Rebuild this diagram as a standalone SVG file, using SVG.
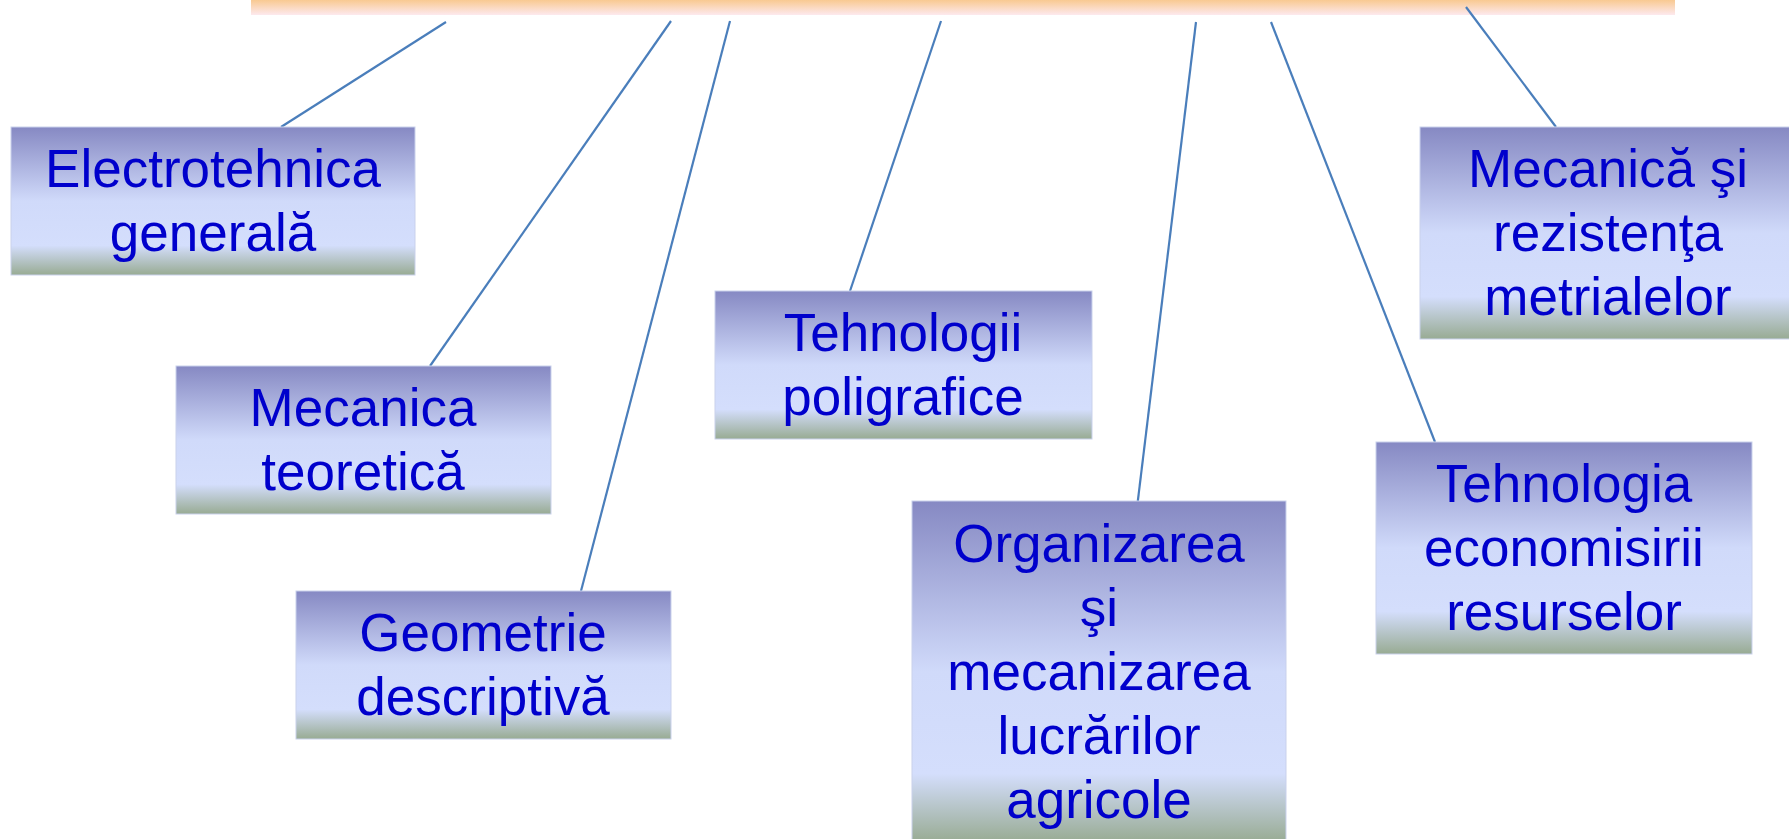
<svg xmlns="http://www.w3.org/2000/svg" width="1789" height="839" viewBox="0 0 1789 839">
<defs>
<linearGradient id="bar" x1="0" y1="0" x2="0" y2="1">
<stop offset="0" stop-color="#f8c585"/>
<stop offset="1" stop-color="#fde9ee"/>
</linearGradient>
<linearGradient id="box" x1="0" y1="0" x2="0" y2="1">
<stop offset="0" stop-color="#8689c3"/>
<stop offset="0.5" stop-color="#d0dafa"/>
<stop offset="0.8" stop-color="#d4defc"/>
<stop offset="1" stop-color="#98ab93"/>
</linearGradient>
</defs>
<style>
.b{fill:url(#box);stroke:#c9d1ec;stroke-width:1}
.t{font-family:"Liberation Sans",Arial,sans-serif;font-size:53px;fill:#0000cc;text-anchor:middle}
.c{stroke:#4a7ebb;stroke-width:2.2;fill:none}
</style>
<rect width="1789" height="839" fill="#ffffff"/>
<rect id="topbar" x="251" y="-2" width="1424" height="17" fill="url(#bar)"/>
<g id="connectors">
<line class="c" x1="446" y1="22" x2="281" y2="127"/>
<line class="c" x1="671" y1="21" x2="430" y2="366"/>
<line class="c" x1="730" y1="21" x2="581" y2="591"/>
<line class="c" x1="941" y1="21" x2="850" y2="291"/>
<line class="c" x1="1196" y1="22" x2="1136" y2="516"/>
<line class="c" x1="1271" y1="22" x2="1435" y2="442"/>
<line class="c" x1="1466" y1="7" x2="1556" y2="127"/>
</g>
<g id="n1">
<rect class="b" x="11" y="127" width="404" height="148"/>
<text class="t"><tspan x="213" y="187">Electrotehnica</tspan><tspan x="213" y="251">generală</tspan></text>
</g>
<g id="n2">
<rect class="b" x="176" y="366" width="375" height="148"/>
<text class="t"><tspan x="363" y="426">Mecanica</tspan><tspan x="363" y="490">teoretică</tspan></text>
</g>
<g id="n3">
<rect class="b" x="296" y="591" width="375" height="148"/>
<text class="t"><tspan x="483" y="651">Geometrie</tspan><tspan x="483" y="715">descriptivă</tspan></text>
</g>
<g id="n4">
<rect class="b" x="715" y="291" width="377" height="148"/>
<text class="t"><tspan x="903" y="351">Tehnologii</tspan><tspan x="903" y="415">poligrafice</tspan></text>
</g>
<g id="n5">
<rect class="b" x="912" y="501" width="374" height="341"/>
<text class="t"><tspan x="1099" y="562">Organizarea</tspan><tspan x="1099" y="626">şi</tspan><tspan x="1099" y="690">mecanizarea</tspan><tspan x="1099" y="754">lucrărilor</tspan><tspan x="1099" y="818">agricole</tspan></text>
</g>
<g id="n6">
<rect class="b" x="1376" y="442" width="376" height="212"/>
<text class="t"><tspan x="1564" y="502">Tehnologia</tspan><tspan x="1564" y="566">economisirii</tspan><tspan x="1564" y="630">resurselor</tspan></text>
</g>
<g id="n7">
<rect class="b" x="1420" y="127" width="376" height="212"/>
<text class="t"><tspan x="1608" y="187">Mecanică şi</tspan><tspan x="1608" y="251">rezistenţa</tspan><tspan x="1608" y="315">metrialelor</tspan></text>
</g>
</svg>
